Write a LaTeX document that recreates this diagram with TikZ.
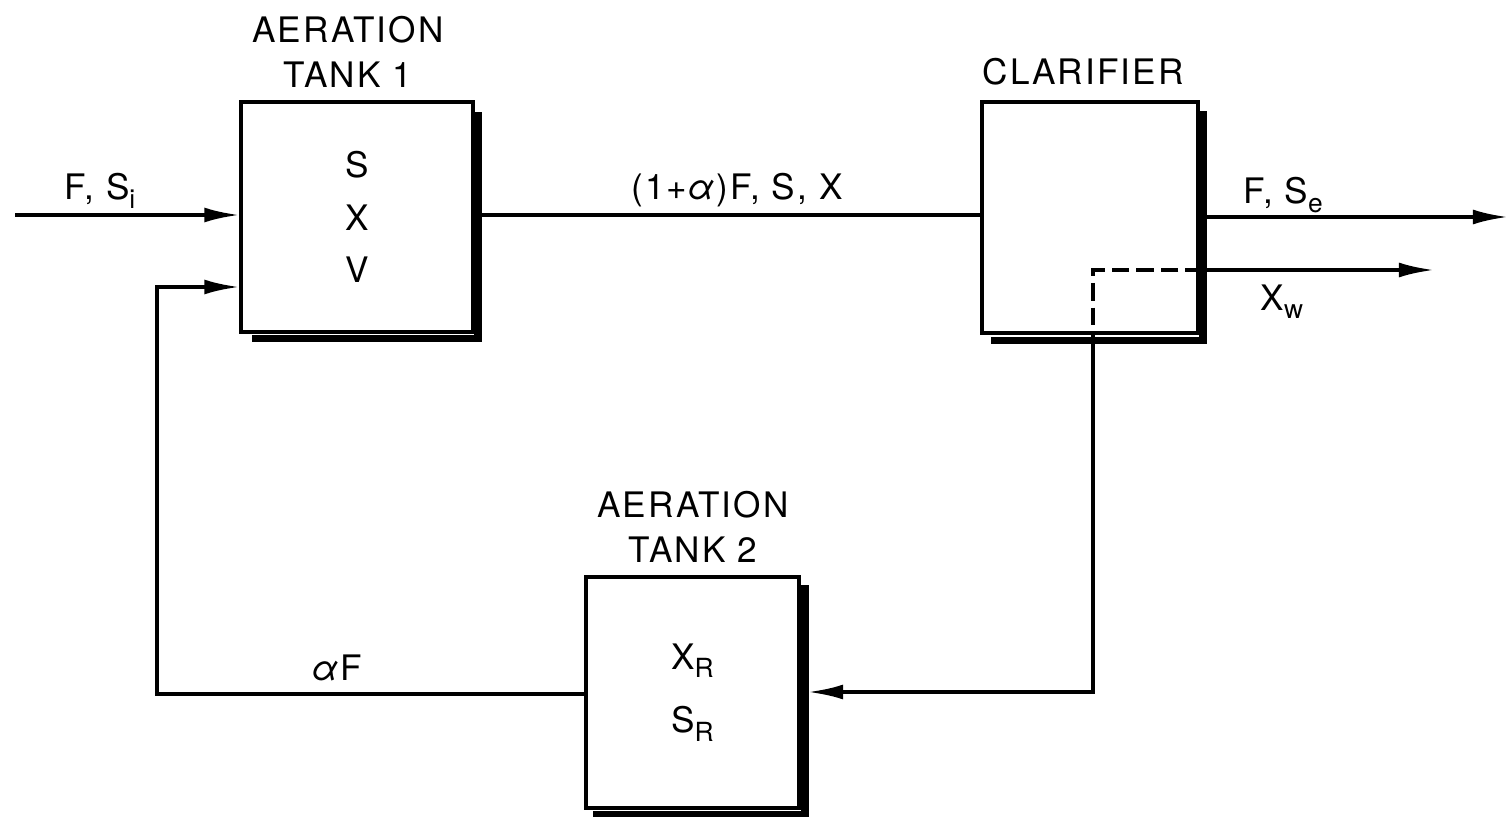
\documentclass[tikz,border=0pt]{standalone}
\usepackage{fontspec}
\setmainfont{TeX Gyre Heros}[LetterSpace=6]
\usetikzlibrary{arrows.meta,calc}
\newcommand{\sbs}[1]{\raisebox{-0.45ex}{\fontsize{15}{15}\selectfont #1}}
\begin{document}
\begin{tikzpicture}[x=0.02cm,y=-0.02cm,
  line width=2.1pt,
  box/.style={draw, line width=1.8pt, rectangle, inner sep=0pt, align=center, font=\fontsize{20}{30}\selectfont},
  lbl/.style={font=\fontsize{20}{26}\selectfont, inner sep=0pt, align=center},
  shadowline/.style={line width=4.2pt},
  flow/.style={-{Latex[length=20pt,width=8.5pt]}},
  waste/.style={dashed, dash pattern=on 10pt off 4pt, line width=1.9pt}]
\useasboundingbox (0,0) rectangle (1508,817);
% boxes
\node[box, minimum width=4.64cm, minimum height=4.6cm] (t1) at (357,217) {S\\X\\V};
\node[box, minimum width=4.32cm, minimum height=4.62cm] (cl) at (1090,217.5) {};
\node[box, minimum width=4.26cm, minimum height=4.62cm, font=\fontsize{20}{36}\selectfont] (t2) at (692.5,692.5) {X\sbs{R}\\S\sbs{R}};
% shadows
\draw[shadowline] ($(t1.north east)+(3.5,12)$) -- ($(t1.south east)+(3.5,5)$) -- ($(t1.south west)+(13,5)$);
\draw[shadowline] ($(cl.north east)+(3.5,11)$) -- ($(cl.south east)+(3.5,6)$) -- ($(cl.south west)+(11,6)$);
\draw[shadowline] ($(t2.north east)+(4.5,10)$) -- ($(t2.south east)+(4.5,5)$) -- ($(t2.south west)+(9,5)$);
% titles
\node[lbl] (t1title) at (348,52) {AERATION\\TANK 1};
\node[lbl] (cltitle) at (1083,72) {CLARIFIER};
\node[lbl] (t2title) at (693,527) {AERATION\\TANK 2};
% coordinates
\coordinate (in) at (15,215);
\coordinate (t1in1) at (t1.west |- in);
\coordinate (t1in2) at ($(t1.west)+(0,70)$);
\coordinate (ret) at (157,694);
\coordinate (t2out) at (t2.west |- ret);
\coordinate (cornerL) at (ret |- t1in2);
\coordinate (clin) at (cl.west |- 215,215);
\coordinate (effl) at (1508,217);
\coordinate (wasteR) at (1203,270);
\coordinate (wasteEnd) at (1434,270);
\coordinate (dashC) at (1093,270);
\coordinate (dashB) at (1093,333);
\coordinate (retR) at (1093,692);
\coordinate (t2in) at (808,692);
% connectors
\draw[flow] (in) -- (t1in1);
\draw[flow] (t2out) -- (ret) -- (cornerL) -- (t1in2);
\draw (t1.east |- clin) -- (clin);
\draw[flow] ($(cl.east |- effl)+(5,0)$) -- (effl);
\draw[flow] (wasteR) -- (wasteEnd);
\draw[waste] (wasteR) -- (dashC) -- (dashB);
\draw[flow] (dashB) -- (retR) -- (t2in);
% labels
\node[lbl] (lFS) at (100,191) {F, S\sbs{i}};
\node[lbl] (lmid) at (737,190) {(1+\textit{α})F, S, X};
\node[lbl] (lFSe) at (1283,195) {F, S\sbs{e}};
\node[lbl] (lXw) at (1282,302) {X\sbs{w}};
\node[lbl] (laF) at (337,668) {\textit{α}F};
\end{tikzpicture}
\end{document}
